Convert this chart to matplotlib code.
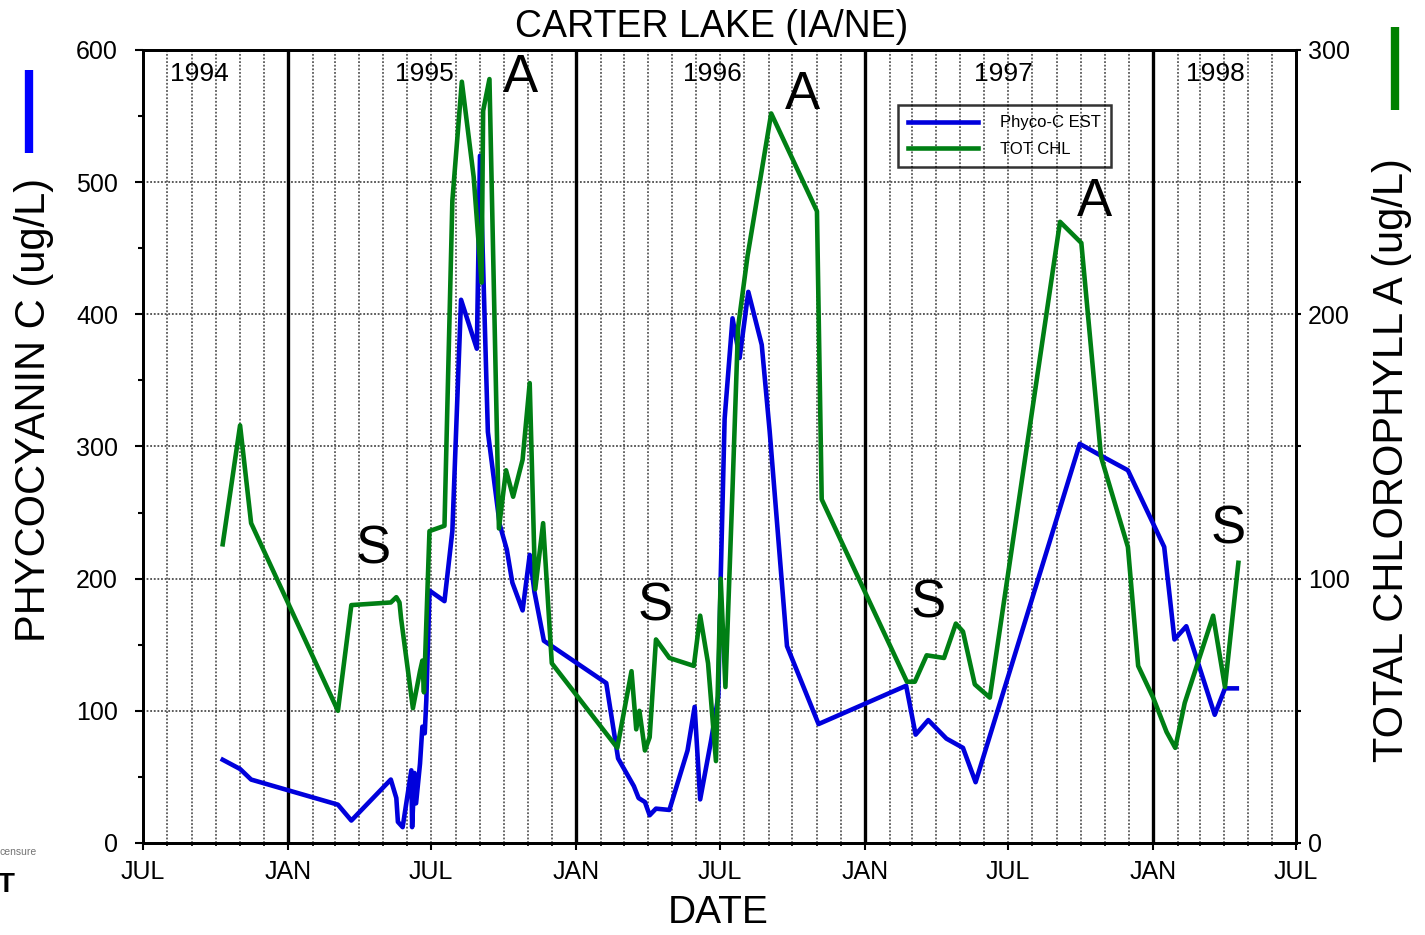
import numpy as np
import matplotlib
matplotlib.use('Agg')
import matplotlib.pyplot as plt
import matplotlib.dates as mdates
from matplotlib.ticker import MultipleLocator, FuncFormatter
from matplotlib.lines import Line2D

plt.rcParams['font.family'] = ['Liberation Sans', 'DejaVu Sans']

# Phycocyanin C estimate (ug/L), left axis
pc_dates = ['1994-10-10', '1994-11-01', '1994-11-15', '1995-03-05', '1995-03-22',
            '1995-05-11', '1995-05-18', '1995-05-20', '1995-05-26', '1995-06-06',
            '1995-06-07', '1995-06-10', '1995-06-12', '1995-06-17', '1995-06-20',
            '1995-06-23', '1995-06-25', '1995-06-29', '1995-07-18', '1995-07-28',
            '1995-08-08', '1995-08-28', '1995-09-01', '1995-09-11', '1995-09-26',
            '1995-10-05', '1995-10-12', '1995-10-25', '1995-11-03', '1995-11-09',
            '1995-11-21', '1996-02-08', '1996-02-23', '1996-03-14', '1996-03-20',
            '1996-03-28', '1996-04-03', '1996-04-11', '1996-04-28', '1996-05-21',
            '1996-05-30', '1996-06-06', '1996-06-20', '1996-06-29', '1996-07-02',
            '1996-07-07', '1996-07-17', '1996-07-26', '1996-08-06', '1996-08-23',
            '1996-09-02', '1996-09-24', '1996-11-03', '1997-02-22', '1997-03-06',
            '1997-03-22', '1997-04-14', '1997-05-05', '1997-05-21', '1997-09-30',
            '1997-10-27', '1997-11-30', '1998-01-15', '1998-01-28', '1998-02-12',
            '1998-03-20', '1998-04-02', '1998-04-17']
pc_vals = [63, 56, 48, 29, 17,
           48, 34, 16, 12, 55,
           12, 53, 30, 60, 88,
           83, 108, 191, 183, 236,
           411, 374, 520, 311, 241,
           222, 197, 176, 218, 190,
           153, 121, 64, 43, 34,
           31, 21, 26, 25, 70,
           103, 33, 78, 111, 200,
           321, 397, 367, 417, 377,
           312, 149, 90, 119, 82,
           93, 79, 72, 46, 302,
           293, 282, 224, 154, 164,
           97, 117, 117]

# Total chlorophyll a (ug/L), right axis
chl_dates = ['1994-10-10', '1994-11-01', '1994-11-15', '1995-03-05', '1995-03-22',
             '1995-05-11', '1995-05-18', '1995-05-22', '1995-05-24', '1995-06-08',
             '1995-06-17', '1995-06-20', '1995-06-22', '1995-06-29', '1995-07-18',
             '1995-07-28', '1995-08-09', '1995-08-24', '1995-09-03', '1995-09-05',
             '1995-09-13', '1995-09-25', '1995-10-04', '1995-10-13', '1995-10-25',
             '1995-11-03', '1995-11-10', '1995-11-20', '1995-12-01', '1996-02-22',
             '1996-03-11', '1996-03-17', '1996-03-21', '1996-03-28', '1996-04-03',
             '1996-04-11', '1996-04-28', '1996-05-29', '1996-06-06', '1996-06-16',
             '1996-06-26', '1996-07-02', '1996-07-08', '1996-07-17', '1996-07-24',
             '1996-08-05', '1996-09-04', '1996-11-01', '1996-11-07', '1997-02-23',
             '1997-03-05', '1997-03-20', '1997-04-11', '1997-04-26', '1997-05-05',
             '1997-05-20', '1997-06-08', '1997-09-05', '1997-10-02', '1997-10-27',
             '1997-11-30', '1997-12-13', '1998-01-01', '1998-01-18', '1998-01-29',
             '1998-02-10', '1998-03-18', '1998-04-02', '1998-04-19']
chl_vals = [113, 158, 121, 50, 90,
            91, 93, 91, 85, 51,
            65, 69, 57, 118, 120,
            243, 288, 252, 212, 277,
            289, 119, 141, 131, 145,
            174, 96, 121, 68, 36,
            65, 43, 50, 35, 40,
            77, 70, 67, 86, 68,
            31, 100, 59, 134, 195,
            222, 276, 239, 130, 61,
            61, 71, 70, 83, 80,
            60, 55, 235, 227, 146,
            112, 67, 55, 42, 36,
            53, 86, 59, 106]

years = ['1994', '1995', '1996', '1997', '1998']
jan_lines = ['1995-01-01', '1996-01-01', '1997-01-01', '1998-01-01']

pc_t = np.array(pc_dates, dtype='datetime64[D]')
chl_t = np.array(chl_dates, dtype='datetime64[D]')

W, H = 1425, 935
fig = plt.figure(figsize=(W / 100, H / 100), dpi=100)
fig.subplots_adjust(left=143 / W, right=1296 / W, bottom=1 - 843 / H, top=1 - 50 / H)
ax1 = fig.add_subplot(111)
ax2 = ax1.twinx()

BLUE = '#0000dc'
GREEN = '#007f14'
LW = 3.3

l1, = ax1.plot(pc_t, pc_vals, color=BLUE, lw=LW, zorder=3)
l2, = ax2.plot(chl_t, chl_vals, color=GREEN, lw=LW)

ax1.set_xlim(np.datetime64('1994-07-01'), np.datetime64('1998-07-01'))
ax1.set_ylim(0, 600)
ax2.set_ylim(0, 300)

# month grid, solid lines at each new year
ax1.xaxis.set_major_locator(mdates.MonthLocator(bymonth=[1, 7]))
ax1.xaxis.set_minor_locator(mdates.MonthLocator())
ax1.xaxis.set_major_formatter(FuncFormatter(lambda x, pos: mdates.num2date(x).strftime('%b').upper()))
ax1.grid(axis='x', which='both', color='0.35', lw=1.3, ls=(0, (1, 1)))
ax1.grid(axis='y', which='major', color='0.3', lw=1.3, ls=(0, (1, 1)))
for d in jan_lines:
    ax1.axvline(np.datetime64(d), color='black', lw=2.4, zorder=2.7)

ax1.yaxis.set_major_locator(MultipleLocator(100))
ax1.yaxis.set_minor_locator(MultipleLocator(50))
ax2.yaxis.set_major_locator(MultipleLocator(100))
ax2.yaxis.set_minor_locator(MultipleLocator(50))

ax1.tick_params(axis='y', which='major', direction='out', length=6, width=1.5, labelsize=18, pad=12)
ax1.tick_params(axis='y', which='minor', direction='out', length=3.5, width=1.5)
ax1.tick_params(axis='x', which='major', direction='out', length=5, width=1.5, labelsize=18, pad=7)
ax1.tick_params(axis='x', which='minor', direction='out', length=2.5, width=1.2)
ax2.tick_params(axis='y', which='both', direction='out', length=3.6, width=1.5, labelsize=18, pad=5)

for ax in (ax1, ax2):
    for s in ax.spines.values():
        s.set_linewidth(2)

ax1.set_ylabel('PHYCOCYANIN C (ug/L)', fontsize=30, va='center')
ax1.yaxis.set_label_coords((34 - 143) / 1153, (843 - 410) / 793)
ax2.set_ylabel('TOTAL CHLOROPHYLL A (ug/L)', fontsize=30, va='center', rotation=90)
ax2.yaxis.set_label_coords((1392 - 143) / 1153, (843 - 460) / 793)
ax1.set_xlabel('DATE', fontsize=28, va='center')
ax1.xaxis.set_label_coords((718 - 143) / 1153, (843 - 913) / 793)
ax1.text((712 - 143) / 1153, (843 - 27) / 793, 'CARTER LAKE (IA/NE)', transform=ax1.transAxes,
         ha='center', va='center', fontsize=27)

# year captions along the top
for yr, d in zip(years, ['1994-09-11', '1995-06-23', '1996-06-22', '1997-06-25', '1998-03-21']):
    ax1.text(np.datetime64(d), 582, yr, ha='center', va='center', fontsize=19)

# bloom tags: A = algal peak, S = seasonal low
tags = [('A', '1995-10-22', 579), ('A', '1996-10-13', 566), ('A', '1997-10-18', 485),
        ('S', '1995-04-18', 222), ('S', '1996-04-10', 179), ('S', '1997-03-22', 181),
        ('S', '1998-04-06', 237)]
for t, d, y in tags:
    ax1.text(np.datetime64(d), y, t, ha='center', va='center', fontsize=38)

leg = ax2.legend([l1, l2], ['Phyco-C EST', 'TOT CHL'], loc='upper left',
                 bbox_to_anchor=(898 / W, 1 - 105 / H), bbox_transform=fig.transFigure,
                 borderaxespad=0, fontsize=12, handlelength=4.2, handletextpad=1.3,
                 labelspacing=0.7, borderpad=0.62, fancybox=False, edgecolor='black',
                 facecolor='none', framealpha=None)
leg.get_frame().set_linewidth(1.8)

# colour keys beside the axis titles
fig.add_artist(Line2D([29 / W, 29 / W], [1 - 70 / H, 1 - 153 / H], transform=fig.transFigure,
                      color='#0000ff', lw=6, solid_capstyle='butt'))
fig.add_artist(Line2D([1395 / W, 1395 / W], [1 - 27 / H, 1 - 110 / H], transform=fig.transFigure,
                      color='#008000', lw=6, solid_capstyle='butt'))

fig.text(0, 1 - 852 / H, 'censure', fontsize=7.5, color='0.45', ha='left', va='center')
fig.text(-2 / W, 1 - 885 / H, 'T', fontsize=20, fontweight='bold', ha='left', va='center')

fig.savefig('out.png', dpi=100)
